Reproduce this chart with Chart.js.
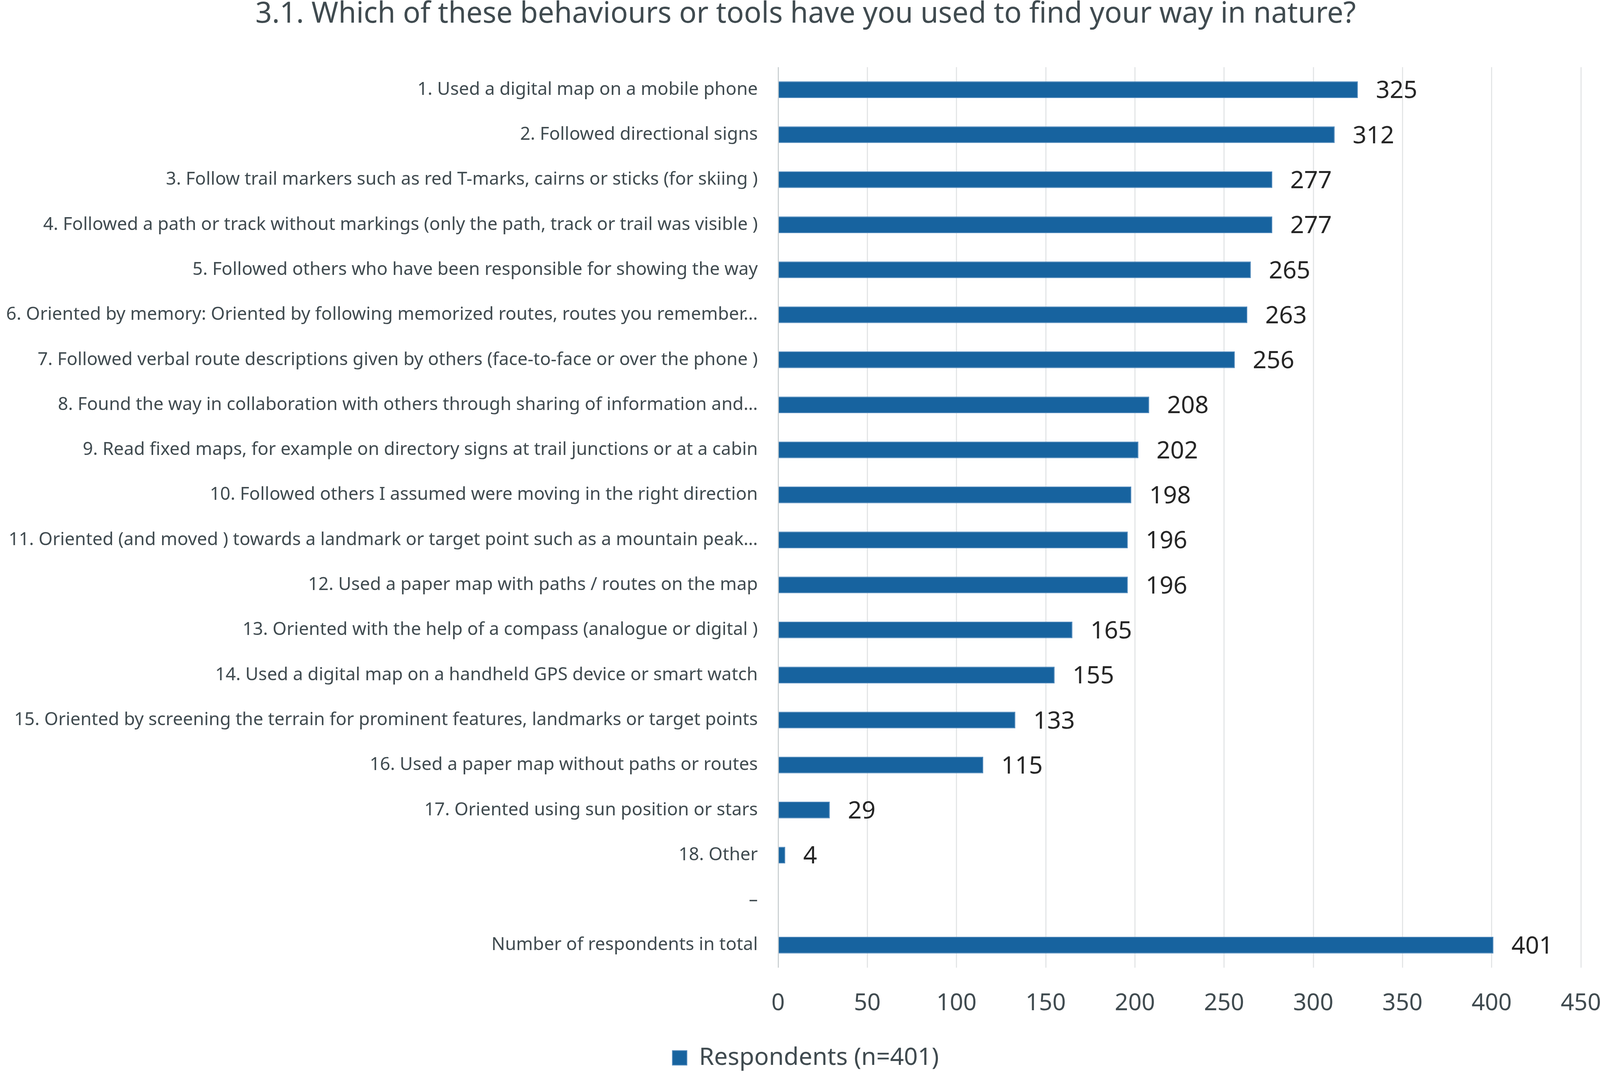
<!DOCTYPE html>
<html>
<head>
<meta charset="utf-8">
<script src="https://cdn.jsdelivr.net/npm/chart.js@4"></script>
<style>
  html, body { margin: 0; padding: 0; background: #fff; }
  canvas { display: block; }
</style>
</head>
<body>
<canvas id="chart" width="4125" height="2758"></canvas>
<script>
const categories = [
    "1. Used a digital map on a mobile phone",
    "2. Followed directional signs",
    "3. Follow trail markers such as red T-marks, cairns or sticks (for skiing )",
    "4. Followed a path or track without markings (only the path, track or trail was visible )",
    "5. Followed others who have been responsible for showing the way",
    "6. Oriented by memory: Oriented by following memorized routes, routes you remember…",
    "7. Followed verbal route descriptions given by others (face-to-face or over the phone )",
    "8. Found the way in collaboration with others through sharing of information and…",
    "9. Read fixed maps, for example on directory signs at trail junctions or at a cabin",
    "10. Followed others I assumed were moving in the right direction",
    "11. Oriented (and moved ) towards a landmark or target point such as a mountain peak…",
    "12. Used a paper map with paths / routes on the map",
    "13. Oriented with the help of a compass (analogue or digital )",
    "14. Used a digital map on a handheld GPS device or smart watch",
    "15. Oriented by screening the terrain for prominent features, landmarks or target points",
    "16. Used a paper map without paths or routes",
    "17. Oriented using sun position or stars",
    "18. Other",
    "–",
    "Number of respondents in total"
]

const respondents = [325, 312, 277, 277, 265, 263, 256, 208, 202, 198, 196, 196, 165, 155, 133, 115, 29, 4, null, 401]

const seriesName = "Respondents (n=401)"
const chartTitle = "3.1. Which of these behaviours or tools have you used to find your way in nature?"
const xTicks = [0, 50, 100, 150, 200, 250, 300, 350, 400, 450]

const textColor = '#404b50'
const barColor = '#17639f'

// value labels to the right of each bar
const valueLabels = {
    id: 'valueLabels',
    afterDatasetsDraw(chart) {
        const ctx = chart.ctx
        const meta = chart.getDatasetMeta(0)
        ctx.save()
        ctx.font = '62px "Noto Sans"'
        ctx.fillStyle = '#262626'
        ctx.textAlign = 'left'
        ctx.textBaseline = 'middle'
        meta.data.forEach((bar, i) => {
            const v = chart.data.datasets[0].data[i]
            if (v === null) return
            ctx.fillText(String(v), bar.x + 46, bar.y + 4)
        })
        ctx.restore()
    }
}

const myChart = document.getElementById('chart')

new Chart(myChart, {
    type: 'bar',
    data: {
        labels: categories,
        datasets: [
            {
                label: seriesName,
                data: respondents,
                backgroundColor: barColor,
                borderColor: '#4f88bb',
                borderWidth: 2,
                barPercentage: 0.37,
                categoryPercentage: 1
            }
        ]
    },
    options: {
        indexAxis: 'y',
        responsive: false,
        animation: false,
        devicePixelRatio: 1,
        layout: {
            padding: { left: 0, right: 0, top: 0, bottom: 8 }
        },
        scales: {
            x: {
                min: 0,
                max: 450,
                afterBuildTicks(scale) {
                    scale.ticks = xTicks.map(v => ({ value: v }))
                },
                afterFit(scale) {
                    scale.height = 182
                    scale.paddingLeft = 0
                    scale.paddingRight = 78
                },
                grid: {
                    color: c => c.tick && c.tick.value === 0 ? '#cdd2d4' : '#e4e6e7',
                    lineWidth: 3,
                    drawTicks: false
                },
                border: { display: false },
                ticks: {
                    padding: 56,
                    color: textColor,
                    font: { family: 'Noto Sans', size: 60 }
                }
            },
            y: {
                afterFit(scale) {
                    scale.width = 1992
                },
                grid: { display: false, drawTicks: false },
                border: { display: false },
                ticks: {
                    padding: 52,
                    autoSkip: false,
                    color: textColor,
                    font: { family: 'Noto Sans', size: 46 }
                }
            }
        },
        plugins: {
            title: {
                display: true,
                text: chartTitle,
                color: textColor,
                font: { family: 'Noto Sans', size: 74, weight: 'normal', lineHeight: 1 },
                padding: { top: 0, bottom: 98 }
            },
            legend: {
                display: true,
                position: 'bottom',
                labels: {
                    color: textColor,
                    font: { family: 'Noto Sans', size: 62 },
                    boxWidth: 37,
                    boxHeight: 37,
                    padding: 18
                }
            },
            tooltip: { enabled: false }
        }
    },
    plugins: [valueLabels]
})
</script>
</body>
</html>
